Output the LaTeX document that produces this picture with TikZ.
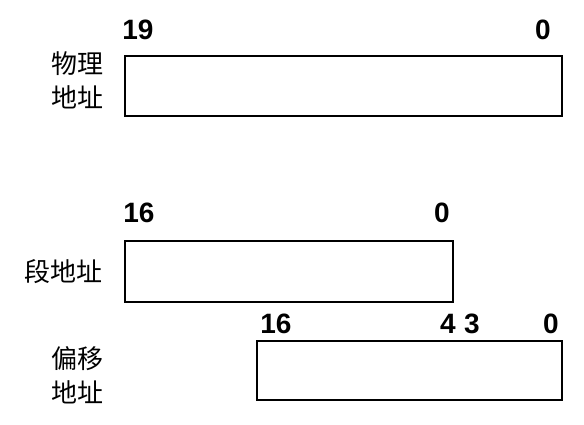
\documentclass[tikz,border=0pt]{standalone}
\usepackage{fontspec}
\setmainfont{Liberation Sans}
\newfontfamily\cjk{Noto Sans CJK SC}
\begin{document}
\begin{tikzpicture}[x=1pt,y=-1pt,
  box/.style={draw, line width=2pt, inner sep=0pt, outer sep=0pt, anchor=north west},
  num/.style={font=\bfseries\fontsize{28}{28}\selectfont, inner sep=0pt},
  lab/.style={font=\cjk\fontsize{26}{34}\selectfont, align=center, inner sep=0pt}]
\useasboundingbox (0,0) rectangle (584,424);
% physical address
\node[box, minimum width=437pt, minimum height=60pt] (phys) at (125,56) {};
\node[num] (p19) at (138,30) {19};
\node[num] (p0) at (543,30) {0};
\node[lab] (plab) at (77,80) {物理\\地址};
% segment address
\node[box, minimum width=328pt, minimum height=61pt] (seg) at (125,241) {};
\node[num] (s16) at (139,213) {16};
\node[num] (s0) at (442,213) {0};
\node[lab] (slab) at (63,272) {段地址};
% offset address
\node[box, minimum width=305pt, minimum height=59pt] (off) at (257,341) {};
\node[num] (o16) at (276,324) {16};
\node[num] (o4) at (448,324) {4};
\node[num] (o3) at (472,324) {3};
\node[num] (o0) at (551,324) {0};
\node[lab] (olab) at (77,375) {偏移\\地址};
\end{tikzpicture}
\end{document}
